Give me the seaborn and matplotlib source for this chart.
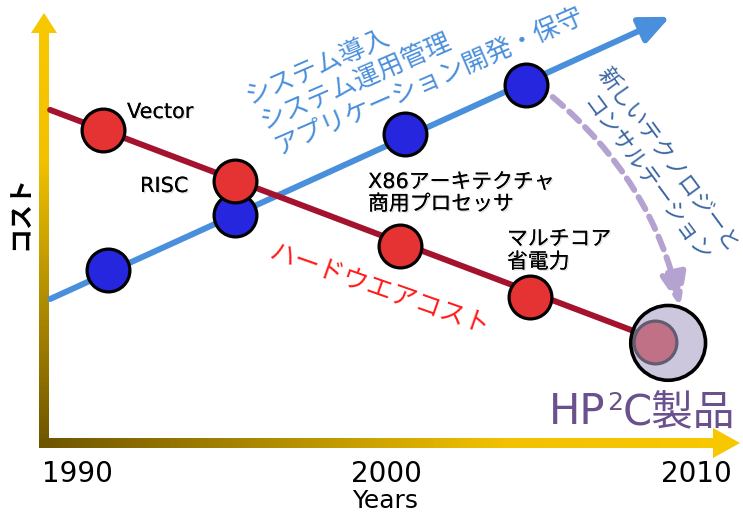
import numpy as np
import seaborn as sns
import matplotlib.pyplot as plt
import matplotlib.patheffects as pe
from matplotlib.colors import LinearSegmentedColormap
from matplotlib.patches import Polygon

# hardware cost milestones (year, relative cost)
hw_years = [1990.84, 1995.10, 2000.44, 2004.64, 2008.68]
hw_cost = [70.6, 59.1, 44.5, 33.0, 22.8]

# system / software cost milestones
sys_years = [1991.0, 1995.1, 2000.6, 2004.5]
sys_cost = [39.0, 51.5, 69.8, 80.8]

# trend lines (start, end)
hw_line_years = [1989.13, 2009.0]
hw_line_cost = [75.2, 22.6]
sys_line_years = [1989.13, 2009.16]
sys_line_cost = [32.5, 96.2]

# HP2C product
hp2c_year = 2009.1
hp2c_cost = 22.6

tick_years = [1990, 2000, 2010]
tick_labels = ['1990', '2000', '2010']

sns.set_theme(style='white')
plt.rcParams['font.family'] = ['DejaVu Sans', 'Noto Sans CJK JP']

fig = plt.figure(figsize=(7.43, 5.13), dpi=100)

# background layer in pixel coordinates for the gradient axis arrows
pix = fig.add_axes([0, 0, 1, 1])
pix.axis('off')

cmap = LinearSegmentedColormap.from_list('gold', ['#6e5500', '#b08c00', '#f2c200', '#f8c800'])

vert = Polygon([(39, 448), (49, 448), (49, 33), (57, 33), (44, 13), (31, 33), (39, 33)], closed=True,
               transform=pix.transData, facecolor='none', edgecolor='none')
pix.add_patch(vert)
im = pix.imshow(np.linspace(1, 0, 200)[:, None], cmap=cmap, extent=(31, 57, 448, 13),
                origin='upper', aspect='auto', vmin=0, vmax=1)
im.set_clip_path(vert)

horiz = Polygon([(39, 438), (713, 438), (713, 428), (740, 443), (713, 458), (713, 448), (39, 448)],
                closed=True, transform=pix.transData, facecolor='none', edgecolor='none')
pix.add_patch(horiz)
im2 = pix.imshow(np.linspace(0, 1, 400)[None, :], cmap=cmap, extent=(39, 740, 458, 428),
                 origin='upper', aspect='auto', vmin=0, vmax=1)
im2.set_clip_path(horiz)
pix.set_xlim(0, 743)
pix.set_ylim(513, 0)

# data axes
ax = fig.add_axes([43 / 743, 70 / 513, 700 / 743, 443 / 513])
ax.patch.set_alpha(0)

# trend lines with arrow heads
ax.annotate('', xy=(sys_line_years[1], sys_line_cost[1]), xytext=(sys_line_years[0], sys_line_cost[0]),
            arrowprops=dict(arrowstyle='-|>,head_length=0.9,head_width=0.4', color='#4a8fdb',
                            lw=4.3, shrinkA=0, shrinkB=0, mutation_scale=20), zorder=2)
ax.annotate('', xy=(hw_line_years[1], hw_line_cost[1]), xytext=(hw_line_years[0], hw_line_cost[0]),
            arrowprops=dict(arrowstyle='-|>,head_length=0.6,head_width=0.35', color='#a3132e',
                            lw=4.3, shrinkA=0, shrinkB=0, mutation_scale=20), zorder=2)

sns.scatterplot(x=sys_years, y=sys_cost, s=950, color='#2626de', edgecolor='black',
                linewidth=2.3, zorder=4, ax=ax)
sns.scatterplot(x=hw_years, y=hw_cost, s=950, color='#e53232', edgecolor='black',
                linewidth=2.3, zorder=4, ax=ax)

# HP2C product bubble
ax.scatter([hp2c_year], [hp2c_cost], s=2900, color='#a8a0c4', alpha=0.58, linewidth=0, zorder=5)
ax.scatter([hp2c_year], [hp2c_cost], s=2900, facecolors='none', edgecolors='black', linewidth=2.6, zorder=6)

# consulting arrow: from the edge of the last system marker to the top of the bubble
ax.annotate('', xy=(hp2c_year + 0.39, hp2c_cost + 8.1), xytext=(sys_years[-1] + 0.87, sys_cost[-1] - 2.7),
            arrowprops=dict(arrowstyle='-|>,head_length=1.0,head_width=0.4', color='#b4a2d0',
                            lw=4.3, linestyle=(0, (2.3, 1.4)), shrinkA=0, shrinkB=0,
                            mutation_scale=20, connectionstyle='arc3,rad=-0.17'), zorder=3)

ax.set_xlim(1990 + (43 - 77) / 30.95, 1990 + (743 - 77) / 30.95)
ax.set_ylim(0, 100)
ax.set_xticks(tick_years)
ax.set_xticklabels(tick_labels, fontsize=20, color='black')
ax.set_yticks([])
ax.tick_params(axis='x', length=0, pad=12)
for s in ax.spines.values():
    s.set_visible(False)
ax.set_xlabel('Years', fontsize=18, color='black')
ax.xaxis.set_label_coords((385 - 43) / 700, (443 - 489) / 443)
ax.set_ylabel('コスト', fontsize=18, color='black', fontweight='bold')
ax.yaxis.set_label_coords((32 - 43) / 700, (443 - 212) / 443)

shadow = [pe.withSimplePatchShadow(offset=(1, -1), alpha=0.12), pe.Normal()]
tk = dict(transform=pix.transData, ha='left', va='baseline', rotation_mode='anchor')

ax.text(127, 118, 'Vector', fontsize=15, color='black', path_effects=shadow, **tk)
ax.text(140, 192, 'RISC', fontsize=15, color='black', path_effects=shadow, **tk)
ax.text(368, 188, 'X86アーキテクチャ', fontsize=15, color='black', path_effects=shadow, **tk)
ax.text(368, 210, '商用プロセッサ', fontsize=15, color='black', path_effects=shadow, **tk)
ax.text(507, 245, 'マルチコア', fontsize=15, color='black', path_effects=shadow, **tk)
ax.text(507, 268, '省電力', fontsize=15, color='black', path_effects=shadow, **tk)

ax.text(249, 104.5, 'システム導入', fontsize=18.5, color='#4a8fdb', rotation=23.5, **tk)
ax.text(264, 130, 'システム運用管理', fontsize=18.5, color='#4a8fdb', rotation=23.5, **tk)
ax.text(279, 155, 'アプリケーション開発・保守', fontsize=18.5, color='#4a8fdb', rotation=23.5, **tk)

ax.text(268, 258, 'ハードウエアコスト', fontsize=18.5, color='#ff1a1a', rotation=-19.3, **tk)

ax.text(597, 74, '新しいテクノロジーと', fontsize=16, color='#3a66a3', rotation=-53.6, **tk)
ax.text(582, 103, 'コンサルテーション', fontsize=16, color='#3a66a3', rotation=-53.6, **tk)

# HP2C label with a proper superscript
hp = ax.text(549, 424, 'HP', fontsize=30, color='#6a508c', **tk)
sup = ax.annotate('2', xy=(1.02, 1.0), xycoords=hp, fontsize=18, color='#6a508c',
                  ha='left', va='top')
ax.annotate('C製品', xy=(1.0, 0.0), xycoords=(sup, hp), fontsize=30, color='#6a508c',
            ha='left', va='bottom')

fig.savefig('out.png', dpi=100)
